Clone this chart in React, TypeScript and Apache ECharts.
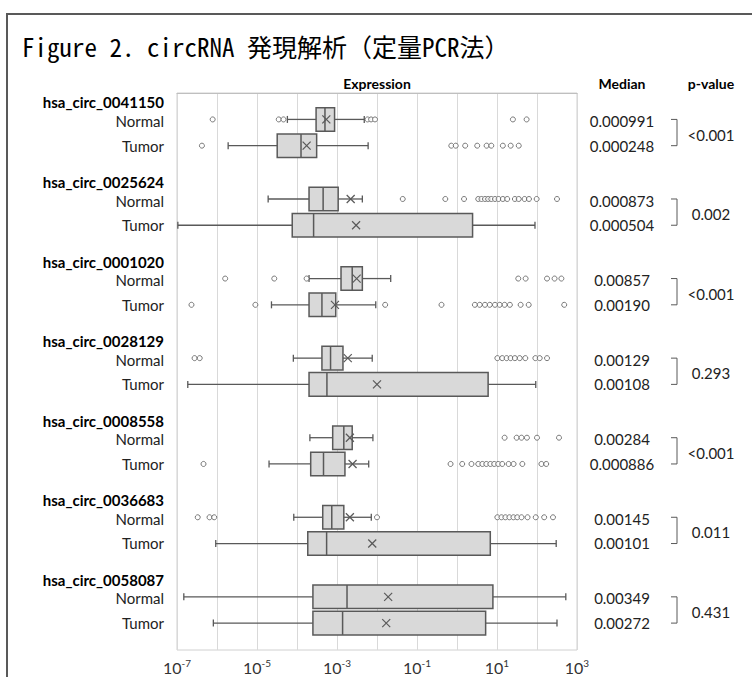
import React, { useEffect, useRef } from "react";
import * as echarts from "echarts";

const genes = [
  "hsa_circ_0041150",
  "hsa_circ_0025624",
  "hsa_circ_0001020",
  "hsa_circ_0028129",
  "hsa_circ_0008558",
  "hsa_circ_0036683",
  "hsa_circ_0058087",
];
const groups = ["Normal", "Tumor"];

// [min whisker, Q1, median, Q3, max whisker, mean]
const normalBoxes = [
  [5.75e-5, 3.0e-4, 5.0e-4, 8.7e-4, 4.8e-3, 5.4e-4],
  [1.9e-5, 2.0e-4, 4.5e-4, 1.07e-3, 4.3e-3, 2.2e-3],
  [2.0e-4, 1.26e-3, 2.4e-3, 4.3e-3, 0.022, 3.1e-3],
  [8.1e-5, 4.2e-4, 6.9e-4, 1.41e-3, 7.6e-3, 1.86e-3],
  [2.1e-4, 7.8e-4, 1.48e-3, 2.4e-3, 7.9e-3, 2.1e-3],
  [8.3e-5, 4.4e-4, 7.4e-4, 1.48e-3, 7.2e-3, 2.1e-3],
  [1.48e-7, 2.5e-4, 1.78e-3, 7.9, 525, 0.019],
];
const tumorBoxes = [
  [1.9e-6, 3.2e-5, 1.26e-4, 3.1e-4, 6.0e-3, 1.74e-4],
  [1.05e-7, 7.6e-5, 2.6e-4, 2.45, 89, 3.0e-3],
  [2.3e-5, 2.0e-4, 4.2e-4, 9.3e-4, 9.3e-3, 8.9e-4],
  [1.86e-7, 2.0e-4, 5.6e-4, 6.0, 93, 0.01],
  [2.0e-5, 2.2e-4, 4.6e-4, 1.58e-3, 6.2e-3, 2.45e-3],
  [9.3e-7, 1.86e-4, 5.5e-4, 6.8, 302, 7.6e-3],
  [8.1e-7, 2.5e-4, 1.38e-3, 5.2, 316, 0.017],
];

const normalOutliers = [
  [7.8e-7, 3.5e-5, 4.6e-5, 5.8e-3, 7.1e-3, 8.9e-3, 25, 55],
  [0.044, 0.51, 1.5, 3.4, 4.1, 5.0, 6.0, 7.2, 8.9, 11, 14, 18, 28, 35, 49, 63, 98, 316],
  [1.6e-6, 2.7e-5, 1.74e-4, 34, 52, 178, 275, 407],
  [2.75e-7, 3.7e-7, 10.2, 13.5, 17.4, 21.9, 28, 37, 51, 91, 117, 178],
  [15.5, 31, 41, 56, 100, 355],
  [3.3e-7, 6.5e-7, 8.5e-7, 0.01, 10.2, 12.9, 16.2, 20.4, 25.7, 32, 41, 58, 93, 151, 251],
  [],
];
const tumorOutliers = [
  [4.2e-7, 0.72, 0.93, 1.6, 3.2, 5.5, 7.2, 14, 22, 35],
  [],
  [2.3e-7, 9.1e-6, 0.016, 0.41, 2.8, 3.7, 5.0, 6.6, 8.9, 11.7, 15.5, 21, 39, 62, 479],
  [],
  [4.6e-7, 0.69, 1.35, 2.3, 3.4, 4.3, 5.4, 6.8, 8.5, 10.7, 13.5, 19.5, 26, 43, 129, 170],
  [],
  [],
];

const normalMedianText = ["0.000991", "0.000873", "0.00857", "0.00129", "0.00284", "0.00145", "0.00349"];
const tumorMedianText = ["0.000248", "0.000504", "0.00190", "0.00108", "0.000886", "0.00101", "0.00272"];
const pValues = ["<0.001", "0.002", "<0.001", "0.293", "<0.001", "0.011", "0.431"];

const titleText = "Figure 2. circRNA 発現解析（定量PCR法）";
const headerExpression = "Expression";
const headerMedian = "Median";
const headerP = "p-value";

// layout (row offsets inside each gene slot, in y-axis units)
const HEADER_OFF = 0.118;
const NORMAL_OFF = 0.332;
const TUMOR_OFF = 0.662;
const NORMAL_TXT = 0.352;
const TUMOR_TXT = 0.66;
const HALF = 0.148;

const FONT = "Lato, 'Noto Sans', sans-serif";
const STROKE = "#595959";

export default function App() {
  const ref = useRef<HTMLDivElement>(null);

  useEffect(() => {
    if (!ref.current) return;
    const chart = echarts.init(ref.current, null, { renderer: "svg" });

    const boxData: number[][] = [];
    genes.forEach((_, i) => {
      boxData.push([i + NORMAL_OFF, ...normalBoxes[i]]);
      boxData.push([i + TUMOR_OFF, ...tumorBoxes[i]]);
    });
    const outlierData: number[][] = [];
    genes.forEach((_, i) => {
      normalOutliers[i].forEach((v) => outlierData.push([v, i + NORMAL_OFF]));
      tumorOutliers[i].forEach((v) => outlierData.push([v, i + TUMOR_OFF]));
    });
    const labelData = genes.map((_, i) => [1, i]);

    const option: any = {
      animation: false,
      backgroundColor: "#fff",
      grid: {
        left: 177,
        right: 175,
        top: 93,
        bottom: 27,
        show: true,
        borderColor: "#d0d0d0",
        borderWidth: 1,
      },
      xAxis: {
        type: "log",
        logBase: 10,
        min: 1e-7,
        max: 1e3,
        interval: 1,
        axisLine: { show: true, lineStyle: { color: "#bfbfbf", width: 1 } },
        axisTick: { show: false },
        splitLine: { show: true, lineStyle: { color: "#d9d9d9", width: 1 } },
        axisLabel: {
          margin: 8,
          hideOverlap: false,
          showMinLabel: true,
          showMaxLabel: true,
          formatter: (v: number) => {
            const e = Math.round(Math.log10(v));
            if ((e + 7) % 2 !== 0) return "";
            return `{b|10}{s|${e}}`;
          },
          rich: {
            b: { fontSize: 16, fontFamily: FONT, color: "#333" },
            s: { fontSize: 10, fontFamily: FONT, color: "#333", verticalAlign: "top", padding: [0, 0, 8, 0] },
          },
        },
      },
      yAxis: {
        type: "value",
        min: 0,
        max: 7,
        inverse: true,
        show: false,
        splitLine: { show: false },
      },
      series: [
        {
          type: "custom",
          silent: true,
          data: boxData,
          encode: { x: [1, 2, 3, 4, 5, 6], y: 0 },
          renderItem: (params: any, api: any) => {
            const y = api.value(0);
            const top = api.coord([1, y - HALF])[1];
            const bot = api.coord([1, y + HALF])[1];
            const yc = api.coord([1, y])[1];
            const px = (d: number) => api.coord([api.value(d), y])[0];
            const xMin = px(1), xQ1 = px(2), xMed = px(3), xQ3 = px(4), xMax = px(5), xMean = px(6);
            const line = (x1: number, y1: number, x2: number, y2: number, w = 1.3) => ({
              type: "line",
              shape: { x1, y1, x2, y2 },
              style: { stroke: STROKE, lineWidth: w },
            });
            return {
              type: "group",
              children: [
                line(xMin, yc, xQ1, yc),
                line(xQ3, yc, xMax, yc),
                line(xMin, yc - 3.5, xMin, yc + 3.5),
                line(xMax, yc - 3.5, xMax, yc + 3.5),
                {
                  type: "rect",
                  shape: { x: xQ1, y: top, width: xQ3 - xQ1, height: bot - top },
                  style: { fill: "#d9d9d9", stroke: STROKE, lineWidth: 1.5 },
                },
                line(xMed, top, xMed, bot, 1.5),
                line(xMean - 4, yc - 4, xMean + 4, yc + 4, 1.2),
                line(xMean - 4, yc + 4, xMean + 4, yc - 4, 1.2),
              ],
            };
          },
          z: 2,
        },
        {
          type: "scatter",
          silent: true,
          data: outlierData,
          symbol: "circle",
          symbolSize: 5,
          itemStyle: { color: "#fff", borderColor: STROKE, borderWidth: 1 },
          z: 3,
        },
        {
          type: "custom",
          silent: true,
          data: labelData,
          encode: { x: 0, y: 1 },
          clip: false,
          renderItem: (params: any, api: any) => {
            const i = params.dataIndex;
            const yAt = (off: number) => api.coord([1, i + off])[1];
            const yN = yAt(NORMAL_OFF);
            const yT = yAt(TUMOR_OFF);
            const txt = (text: string, x: number, y: number, align: string, bold = false) => ({
              type: "text",
              x,
              y,
              style: {
                text,
                fontSize: 15,
                fontFamily: FONT,
                fontWeight: bold ? "bold" : "normal",
                fill: bold ? "#000" : "#222",
                align,
                verticalAlign: "middle",
              },
            });
            return {
              type: "group",
              children: [
                txt(genes[i], 164, yAt(HEADER_OFF), "right", true),
                txt(groups[0], 164, yAt(NORMAL_TXT), "right"),
                txt(groups[1], 164, yAt(TUMOR_TXT), "right"),
                txt(normalMedianText[i], 622, yAt(NORMAL_TXT), "center"),
                txt(tumorMedianText[i], 622, yAt(TUMOR_TXT), "center"),
                {
                  type: "polyline",
                  shape: { points: [[671, yN], [677, yN], [677, yT], [671, yT]] },
                  style: { stroke: STROKE, lineWidth: 1, fill: "none" },
                },
                txt(pValues[i], 711, (yN + yT) / 2 + 2, "center"),
              ],
            };
          },
          z: 4,
        },
      ],
      graphic: [
        {
          type: "line",
          shape: { x1: 7, y1: 14, x2: 7, y2: 677 },
          style: { stroke: STROKE, lineWidth: 2 },
        },
        {
          type: "line",
          shape: { x1: 6, y1: 14, x2: 752, y2: 14 },
          style: { stroke: STROKE, lineWidth: 2 },
        },
        {
          type: "text",
          x: 22,
          y: 46,
          style: {
            text: titleText,
            fontSize: 25,
            fontFamily: "'Noto Sans Mono CJK JP', 'Noto Sans CJK JP', monospace",
            fill: "#000",
            verticalAlign: "middle",
          },
        },
        {
          type: "text",
          x: 377,
          y: 83,
          style: { text: headerExpression, fontSize: 14, fontWeight: "bold", fontFamily: FONT, fill: "#000", align: "center", verticalAlign: "middle" },
        },
        {
          type: "text",
          x: 622,
          y: 83,
          style: { text: headerMedian, fontSize: 14, fontWeight: "bold", fontFamily: FONT, fill: "#000", align: "center", verticalAlign: "middle" },
        },
        {
          type: "text",
          x: 711,
          y: 83,
          style: { text: headerP, fontSize: 14, fontWeight: "bold", fontFamily: FONT, fill: "#000", align: "center", verticalAlign: "middle" },
        },
      ],
    };

    chart.setOption(option);
    return () => chart.dispose();
  }, []);

  return (
    <div
      ref={ref}
      style={{ position: "absolute", left: 0, top: 0, width: 752, height: 677, background: "#fff" }}
    />
  );
}
